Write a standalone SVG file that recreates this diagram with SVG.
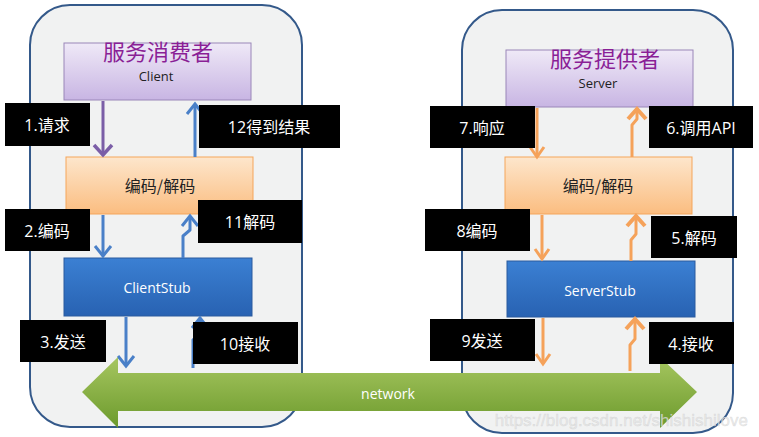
<svg xmlns="http://www.w3.org/2000/svg" width="759" height="437" viewBox="0 0 759 437">
<style>
.cont{fill:#f1f2f2;stroke:#34598a;stroke-width:2}
.lbl rect{fill:#000}
.lbl text{fill:#fff;font-family:"Open Sans","Noto Sans CJK SC",sans-serif;font-size:16px;text-anchor:middle;dominant-baseline:central}
.title{fill:#8a1f96;font-family:"Noto Sans CJK SC",sans-serif;font-size:22px;text-anchor:middle}
.sub{fill:#222;font-family:"Open Sans","Noto Sans CJK SC",sans-serif;font-size:13px;text-anchor:middle}
.cod{fill:#222;font-family:"Noto Sans CJK SC",sans-serif;font-size:16px;text-anchor:middle;dominant-baseline:central}
.stub{fill:#fff;font-family:"Open Sans",sans-serif;font-size:14px;text-anchor:middle;dominant-baseline:central}
.c{fill:none;stroke-width:3;stroke-linejoin:round}
.pu{stroke:#7b5ea7}
.bl{stroke:#4a80c8}
.or{stroke:#f5a25a}
</style>
<defs>
<linearGradient id="gP" x1="0" y1="0" x2="0" y2="1"><stop offset="0" stop-color="#efe9f7"/><stop offset="1" stop-color="#c8b5e3"/></linearGradient>
<linearGradient id="gO" x1="0" y1="0" x2="0" y2="1"><stop offset="0" stop-color="#fde6cc"/><stop offset="1" stop-color="#fbbd80"/></linearGradient>
<linearGradient id="gB" x1="0" y1="0" x2="0" y2="1"><stop offset="0" stop-color="#3b80d3"/><stop offset="1" stop-color="#2862b2"/></linearGradient>
<linearGradient id="gG" x1="0" y1="0" x2="0" y2="1"><stop offset="0" stop-color="#a6c660"/><stop offset="1" stop-color="#6c9a2c"/></linearGradient>
<marker id="mP" markerUnits="userSpaceOnUse" markerWidth="30" markerHeight="30" viewBox="-15 -15 30 30" orient="auto" overflow="visible"><path d="M-10,-9 L0,0 L-10,9" fill="none" stroke="#7b5ea7" stroke-width="3.5"/></marker>
<marker id="mB" markerUnits="userSpaceOnUse" markerWidth="30" markerHeight="30" viewBox="-15 -15 30 30" orient="auto" overflow="visible"><path d="M-10,-8 L0,0 L-10,8" fill="none" stroke="#4a80c8" stroke-width="3"/></marker>
<marker id="mO" markerUnits="userSpaceOnUse" markerWidth="30" markerHeight="30" viewBox="-15 -15 30 30" orient="auto" overflow="visible"><path d="M-10,-7 L0,0 L-10,7" fill="none" stroke="#f5a25a" stroke-width="3"/></marker>
<marker id="mO2" markerUnits="userSpaceOnUse" markerWidth="30" markerHeight="30" viewBox="-15 -15 30 30" orient="auto" overflow="visible"><path d="M-10,-9 L0,0 L-10,9" fill="none" stroke="#f5a25a" stroke-width="4"/></marker>
</defs>

<g id="consumer-container"><rect class="cont" x="30" y="5" width="272" height="422" rx="40"/></g>
<g id="provider-container"><rect class="cont" x="462" y="10" width="271" height="423" rx="40"/></g>

<g id="client"><rect x="64" y="43" width="187" height="57" fill="url(#gP)" stroke="#9a86b8"/><text class="title" x="158" y="60">服务消费者</text><text class="sub" x="156" y="81">Client</text></g>
<g id="client-codec"><rect x="66" y="157" width="187" height="57" fill="url(#gO)" stroke="#f5a55a"/><text class="cod" x="160" y="185">编码/解码</text></g>
<g id="client-stub"><rect x="64" y="258" width="188" height="58" fill="url(#gB)" stroke="#2a5a9e"/><text class="stub" x="157" y="287">ClientStub</text></g>

<g id="server"><rect x="506" y="50" width="187" height="57" fill="url(#gP)" stroke="#9a86b8"/><text class="title" x="605" y="67">服务提供者</text><text class="sub" x="598" y="88">Server</text></g>
<g id="server-codec"><rect x="505" y="157" width="187" height="57" fill="url(#gO)" stroke="#f5a55a"/><text class="cod" x="598" y="185">编码/解码</text></g>
<g id="server-stub"><rect x="507" y="261" width="188" height="56" fill="url(#gB)" stroke="#2a5a9e"/><text class="stub" x="600" y="290">ServerStub</text></g>

<g id="connectors">
<path class="c pu" d="M103,101 L103,155" marker-end="url(#mP)"/>
<path class="c bl" d="M195,157 L195,104" marker-end="url(#mB)"/>
<path class="c bl" d="M103,215 L103,256" marker-end="url(#mB)"/>
<path class="c bl" d="M183,258 L183,236 L190,230 L190,216" marker-end="url(#mB)"/>
<path class="c bl" d="M126,317 L126,366" marker-end="url(#mB)"/>
<path class="c bl" d="M193,368 L193,340 L200,334 L200,318" marker-end="url(#mB)"/>
<path class="c or" d="M537,108 L537,157" marker-end="url(#mO)"/>
<path class="c or" d="M632,157 L632,125 L637,119 L637,109" stroke-width="4" marker-end="url(#mO2)"/>
<path class="c or" d="M542,215 L542,259" marker-end="url(#mO)"/>
<path class="c or" d="M631,261 L631,240 L636,234 L636,216" stroke-width="4" marker-end="url(#mO2)"/>
<path class="c or" d="M543,318 L543,364" marker-end="url(#mO)"/>
<path class="c or" d="M630,371 L630,345 L635,339 L635,319" stroke-width="4" marker-end="url(#mO2)"/>
</g>

<g id="network"><path d="M82,392 L118,357 L118,373 L660,373 L660,357 L697,392 L660,428 L660,411 L118,411 L118,428 Z" fill="url(#gG)"/><text class="stub" x="388" y="393">network</text></g>

<g id="label-1" class="lbl"><rect x="5" y="103" width="85" height="43"/><text x="47" y="125">1.请求</text></g>
<g id="label-12" class="lbl"><rect x="199" y="105" width="141" height="43"/><text x="269" y="127">12得到结果</text></g>
<g id="label-2" class="lbl"><rect x="5" y="209" width="85" height="42"/><text x="47" y="231">2.编码</text></g>
<g id="label-11" class="lbl"><rect x="198" y="200" width="104" height="43"/><text x="250" y="222">11解码</text></g>
<g id="label-3" class="lbl"><rect x="20" y="320" width="86" height="42"/><text x="63" y="342">3.发送</text></g>
<g id="label-10" class="lbl"><rect x="193" y="322" width="105" height="42"/><text x="245" y="344">10接收</text></g>
<g id="label-7" class="lbl"><rect x="430" y="106" width="105" height="42"/><text x="482" y="128">7.响应</text></g>
<g id="label-6" class="lbl"><rect x="649" y="106" width="104" height="42"/><text x="701" y="128">6.调用API</text></g>
<g id="label-8" class="lbl"><rect x="425" y="209" width="105" height="42"/><text x="477" y="231">8编码</text></g>
<g id="label-5" class="lbl"><rect x="651" y="216" width="86" height="42"/><text x="694" y="238">5.解码</text></g>
<g id="label-9" class="lbl"><rect x="430" y="319" width="105" height="42"/><text x="482" y="341">9发送</text></g>
<g id="label-4" class="lbl"><rect x="649" y="322" width="85" height="42"/><text x="691" y="344">4.接收</text></g>

<text x="748" y="426" text-anchor="end" font-family="Liberation Sans, sans-serif" font-size="17" fill="#e6e6e6" fill-opacity="0.75" stroke="#b0b0b0" stroke-opacity="0.35" stroke-width="0.5">https://blog.csdn.net/shishishilove</text>
</svg>
